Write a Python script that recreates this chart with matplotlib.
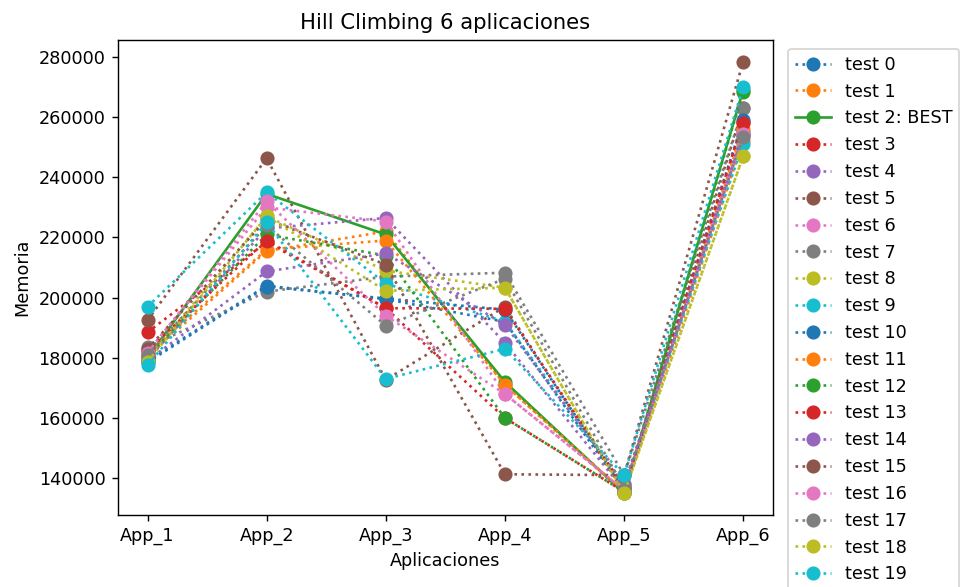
import matplotlib.pyplot as plt

apps = ['App_1', 'App_2', 'App_3', 'App_4', 'App_5', 'App_6']

test_0 = [179000, 204000, 199500, 192000, 136000, 255000]
test_1 = [180500, 215500, 222000, 171000, 135000, 252000]
test_2 = [180000, 234500, 221000, 172000, 135000, 269000]
test_3 = [188500, 218500, 196500, 160000, 135500, 258500]
test_4 = [179500, 223000, 226500, 185000, 136000, 254000]
test_5 = [192500, 246300, 172700, 197000, 135500, 263000]
test_6 = [182000, 230000, 225300, 168000, 136000, 254500]
test_7 = [183500, 202000, 207000, 208300, 141000, 263000]
test_8 = [180000, 227000, 209000, 203300, 135000, 247000]
test_9 = [197000, 235000, 204700, 192000, 138000, 251000]
test_10 = [178500, 203700, 199700, 196000, 136500, 259000]
test_11 = [181500, 216000, 219000, 171000, 135500, 256000]
test_12 = [180500, 221000, 214000, 160000, 135500, 268500]
test_13 = [182500, 219000, 196500, 196300, 137000, 258000]
test_14 = [179000, 208700, 214700, 191000, 138000, 254000]
test_15 = [183000, 226000, 211000, 141300, 141000, 278500]
test_16 = [181700, 232000, 194000, 168000, 136000, 254500]
test_17 = [181000, 224000, 190700, 206300, 137000, 253500]
test_18 = [178700, 227000, 202300, 203300, 135000, 247000]
test_19 = [177500, 225000, 173000, 183000, 141000, 270000]

tests = [test_0, test_1, test_2, test_3, test_4, test_5, test_6, test_7, test_8, test_9,
         test_10, test_11, test_12, test_13, test_14, test_15, test_16, test_17, test_18, test_19]
best = 2

# original was rendered at a higher dpi, so keep default sizes and scale with dpi
fig = plt.figure(figsize=(965 / 127, 587 / 127), dpi=127)
ax = fig.add_axes([0.122, 0.123, 0.679, 0.809])

for i, vals in enumerate(tests):
    if i == best:
        ax.plot(apps, vals, '-o', markersize=7, label=f'test {i}: BEST')
    else:
        ax.plot(apps, vals, ':o', markersize=7, label=f'test {i}')

ax.set_title('Hill Climbing 6 aplicaciones')
ax.set_xlabel('Aplicaciones')
ax.set_ylabel('Memoria')
ax.legend(bbox_to_anchor=(1.01, 1), loc='upper left')

fig.savefig('out.png', dpi=127)
